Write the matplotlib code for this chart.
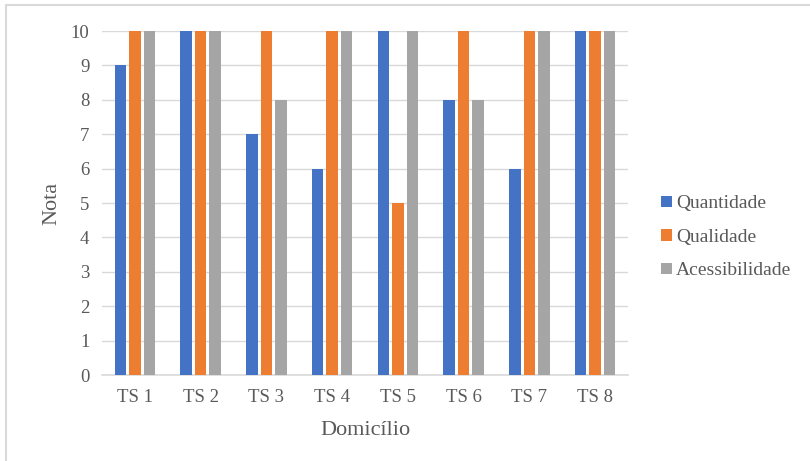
import matplotlib.pyplot as plt
import numpy as np
from matplotlib.patches import Rectangle

categories = ["TS 1", "TS 2", "TS 3", "TS 4", "TS 5", "TS 6", "TS 7", "TS 8"]
quantidade = [9, 10, 7, 6, 10, 8, 6, 10]
qualidade = [10, 10, 10, 10, 5, 10, 10, 10]
acessibilidade = [10, 10, 8, 10, 10, 8, 10, 10]
series_names = ["Quantidade", "Qualidade", "Acessibilidade"]
colors = ["#4472C4", "#ED7D31", "#A5A5A5"]

plt.rcParams['font.family'] = ['Liberation Serif', 'DejaVu Serif']
text_color = "#595959"

fig = plt.figure(figsize=(8.10, 4.61), dpi=100)
ax = fig.add_axes([102 / 810, 1 - 375 / 461, 526 / 810, 344 / 461])

x = np.arange(len(categories))
step = 0.22
width = 0.175
for i, (vals, name, c) in enumerate(zip([quantidade, qualidade, acessibilidade], series_names, colors)):
    ax.bar(x + (i - 1) * step, vals, width=width, color=c, label=name, zorder=3)

ax.set_xlim(-0.5, len(categories) - 0.5)
ax.set_ylim(0, 10)
ax.set_yticks(range(0, 11))
ax.set_xticks(x)
ax.set_xticklabels(categories)
ax.grid(axis='y', color="#D9D9D9", linewidth=1, zorder=0)
for s in ["top", "right", "left"]:
    ax.spines[s].set_visible(False)
ax.spines["bottom"].set_color("#D9D9D9")
ax.spines["bottom"].set_linewidth(1.2)
ax.tick_params(axis='both', length=0, labelsize=13.5, colors=text_color)
ax.tick_params(axis='x', pad=10)
ax.tick_params(axis='y', pad=9)

ax.set_ylabel("Nota", fontsize=16, color=text_color, labelpad=7)
ax.set_xlabel("Domicílio", fontsize=16, color=text_color, labelpad=11)

leg = ax.legend(loc='center left', bbox_to_anchor=(1.03, 0.40), frameon=False,
                fontsize=14, handlelength=0.55, handleheight=0.55, handletextpad=0.2,
                labelspacing=0.85)
for t in leg.get_texts():
    t.set_color(text_color)

fig.patches.append(Rectangle((6 / 810, -0.1), 1.2, 1 - 5 / 461 + 0.1, transform=fig.transFigure,
                             fill=False, edgecolor="#D9D9D9", linewidth=1.5, zorder=0))

fig.savefig("out.png", dpi=100)
